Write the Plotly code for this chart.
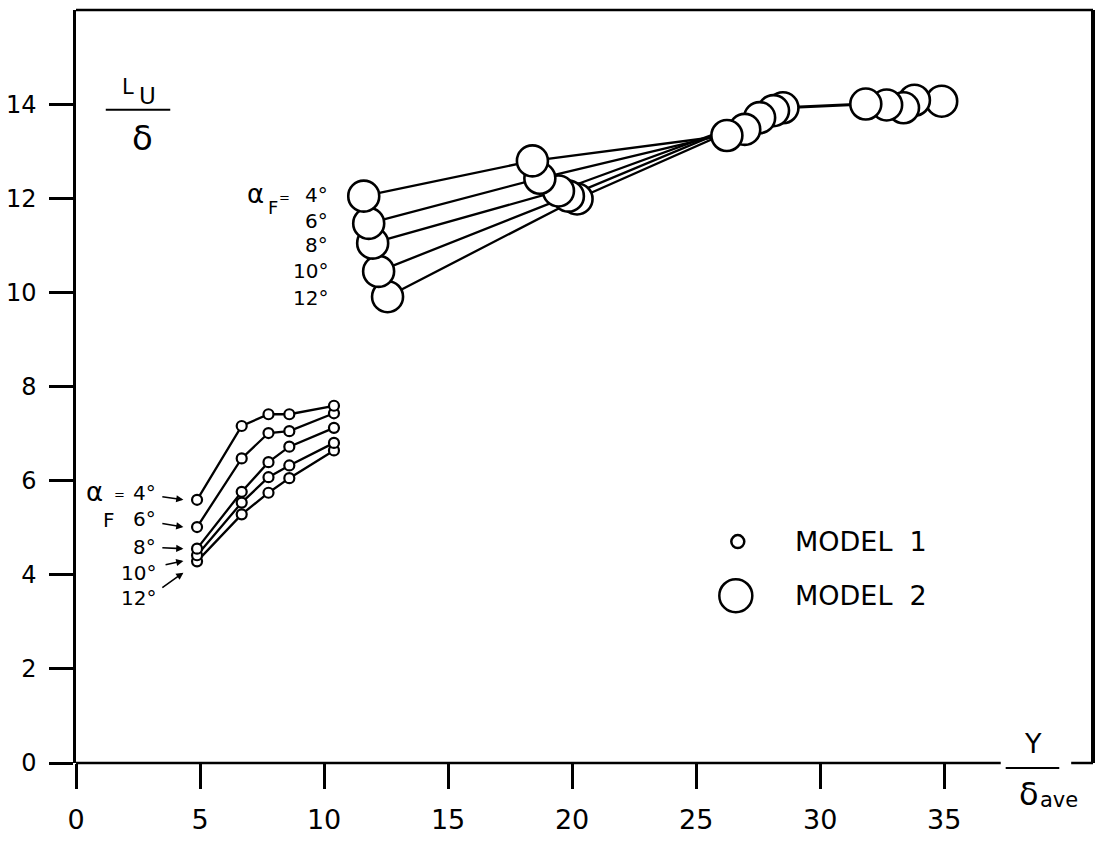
import plotly.graph_objects as go

FONT = "DejaVu Sans"
INK = "black"

# Flap angles (one curve per angle, top curve = 4 deg)
alpha_labels = ["4°", "6°", "8°", "10°", "12°"]

# Model 1: spanwise stations Y/delta_ave and L_U/delta per flap angle
m1_stations = [4.88, 6.68, 7.76, 8.6, 10.4]
m1_lu = [
    [5.60, 7.17, 7.42, 7.42, 7.60],   # 4°
    [5.02, 6.48, 7.02, 7.06, 7.44],   # 6°
    [4.56, 5.77, 6.40, 6.73, 7.13],   # 8°
    [4.42, 5.54, 6.08, 6.33, 6.81],   # 10°
    [4.29, 5.29, 5.75, 6.06, 6.65],   # 12°
]

# Model 2: first three stations per flap angle
m2_y_ave = [
    [11.60, 18.40, 26.24],   # 4°
    [11.80, 18.70, 26.96],   # 6°
    [11.96, 19.45, 27.56],   # 8°
    [12.20, 19.85, 28.12],   # 10°
    [12.56, 20.20, 28.50],   # 12°
]
m2_lu = [
    [12.06, 12.81, 13.35],
    [11.48, 12.44, 13.48],
    [11.06, 12.17, 13.73],
    [10.46, 12.06, 13.88],
    [9.92, 12.00, 13.94],
]
# Model 2: outboard station, one value per flap angle
m2_outer_y_ave = [31.84, 32.68, 33.36, 33.80, 34.90]
m2_outer_lu = [14.02, 14.00, 13.94, 14.10, 14.08]

x_ticks = [0, 5, 10, 15, 20, 25, 30, 35]
y_ticks = [0, 2, 4, 6, 8, 10, 12, 14]

X_MAX = 41.0
Y_MAX = 16.02

fig = go.Figure()

line_style = dict(color=INK, width=2.3)

# connecting lines first so the open circles sit on top of them
for lu in m1_lu:
    fig.add_trace(go.Scatter(x=m1_stations, y=lu, mode="lines",
                             line=line_style, hoverinfo="skip", showlegend=False))
for xs, ys in zip(m2_y_ave, m2_lu):
    fig.add_trace(go.Scatter(x=xs, y=ys, mode="lines",
                             line=line_style, hoverinfo="skip", showlegend=False))

# the outboard run joins the last inboard cluster to the outer cluster
run = sorted(zip([r[-1] for r in m2_y_ave] + m2_outer_y_ave,
                 [r[-1] for r in m2_lu] + m2_outer_lu))
fig.add_trace(go.Scatter(x=[p[0] for p in run], y=[p[1] for p in run], mode="lines",
                         line=dict(color=INK, width=3), hoverinfo="skip", showlegend=False))

# Model 1 markers (12° drawn first so 4° ends up on top)
m1_px, m1_py = [], []
for lu in reversed(m1_lu):
    m1_px += m1_stations
    m1_py += lu
fig.add_trace(go.Scatter(x=m1_px, y=m1_py, mode="markers",
                         marker=dict(symbol="circle", size=10, color="white",
                                     line=dict(color=INK, width=2.2)),
                         name="MODEL 1", showlegend=False))

# Model 2 markers
m2_px, m2_py = [], []
for station in range(3):
    for k in reversed(range(5)):
        m2_px.append(m2_y_ave[k][station])
        m2_py.append(m2_lu[k][station])
for k in reversed(range(5)):
    m2_px.append(m2_outer_y_ave[k])
    m2_py.append(m2_outer_lu[k])
fig.add_trace(go.Scatter(x=m2_px, y=m2_py, mode="markers",
                         marker=dict(symbol="circle", size=31, color="white",
                                     line=dict(color=INK, width=2.6)),
                         name="MODEL 2", showlegend=False))

ann = []


def text(x, y, s, size=22, xanchor="center", yanchor="middle", xref="x", yref="y"):
    ann.append(dict(x=x, y=y, text=s, showarrow=False, xref=xref, yref=yref,
                    xanchor=xanchor, yanchor=yanchor,
                    font=dict(family=FONT, size=size, color=INK)))


# flap-angle labels beside Model 2
m2_label_y = [12.08, 11.54, 11.02, 10.46, 9.90]
text(7.24, m2_label_y[0] + 0.02, "α", size=26)
text(7.96, 11.81, "F", size=18)
text(8.4, m2_label_y[0] - 0.04, "=", size=13)
text(10.25, m2_label_y[0], "4°", size=20, xanchor="right")
for k in range(1, 5):
    text(10.25, m2_label_y[k], alpha_labels[k], size=20, xanchor="right")

# flap-angle labels with arrows beside Model 1
m1_label_y = [5.75, 5.19, 4.60, 4.04, 3.52]
text(0.76, m1_label_y[0] + 0.02, "α", size=26)
text(1.76, m1_label_y[0] - 0.04, "=", size=13)
text(3.3, m1_label_y[0], "4°", size=20, xanchor="right")
text(1.32, 5.17, "F", size=20)
for k in range(1, 5):
    text(3.3, m1_label_y[k], alpha_labels[k], size=20, xanchor="right")

arrow_tails = [(3.42, 5.67), (3.42, 5.10), (3.42, 4.58), (3.55, 4.21), (3.42, 3.71)]
for k, (tx, ty) in enumerate(arrow_tails):
    hx = m1_stations[0] - 0.55
    hy = m1_lu[k][0] - (0.0 if k < 3 else 0.12 * (k - 2))
    ann.append(dict(x=hx, y=hy, ax=tx, ay=ty, axref="x", ayref="y",
                    xref="x", yref="y", text="", showarrow=True,
                    arrowhead=2, arrowsize=0.9, arrowwidth=1.6, arrowcolor=INK))

# y-axis quantity  L_U / delta
text(2.1, 14.38, "L", size=21)
text(2.9, 14.2, "U", size=23)
text(2.7, 13.3, "δ", size=34)

# x-axis quantity  Y / delta_ave (sits in the gap of the base line)
text((1033 - 68) / 1025, (780 - 760) / 769, "Y", size=27, xref="paper", yref="paper")
text((1028 - 68) / 1025, (780 - 812) / 769, "δ", size=32, xref="paper", yref="paper")
text((1038 - 68) / 1025, (780 - 818) / 769, "ave", size=21, xanchor="left",
     xref="paper", yref="paper")

# legend keys
text(28.9, 4.71, "MODEL  1", size=27, xanchor="left")
text(28.9, 3.56, "MODEL  2", size=27, xanchor="left")

shapes = []


def seg(x0, y0, x1, y1, w=2.5, xref="paper", yref="paper"):
    shapes.append(dict(type="line", x0=x0, y0=y0, x1=x1, y1=y1, xref=xref, yref=yref,
                       line=dict(color=INK, width=w)))


# frame: top, right, and broken base line
seg(0, 1, 1, 1)
seg(1, 0, 1, 1, w=4)
seg(0, 0, (1000 - 68) / 1025, 0)
seg((1071 - 68) / 1025, 0, 1, 0)
# fraction bars
seg((1005 - 68) / 1025, (780 - 785) / 769, (1059 - 68) / 1025, (780 - 785) / 769, w=2)
seg(1.2, 13.9, 3.8, 13.9, w=2, xref="x", yref="y")

# legend circles
for cx, cy, d in [(26.68, 4.71, 13), (26.6, 3.56, 33)]:
    shapes.append(dict(type="circle", xref="x", yref="y", xsizemode="pixel", ysizemode="pixel",
                       xanchor=cx, yanchor=cy, x0=-d / 2, x1=d / 2, y0=-d / 2, y1=d / 2,
                       line=dict(color=INK, width=2.5), fillcolor="white"))

fig.update_layout(
    width=1099, height=841,
    margin=dict(l=68, r=6, t=10, b=62),
    paper_bgcolor="white", plot_bgcolor="white",
    showlegend=False,
    annotations=ann, shapes=shapes,
    font=dict(family=FONT, color=INK),
    xaxis=dict(range=[0, X_MAX], tickvals=x_ticks, ticks="outside", ticklen=25,
               tickwidth=2.5, tickcolor=INK, showgrid=False, zeroline=False,
               showline=False, tickfont=dict(family=FONT, size=27, color=INK),
               ticklabelstandoff=8),
    yaxis=dict(range=[0, Y_MAX], tickvals=y_ticks, ticks="outside", ticklen=24,
               tickwidth=2.5, tickcolor=INK, showgrid=False, zeroline=False,
               showline=True, linewidth=2.5, linecolor=INK,
               tickfont=dict(family=FONT, size=24, color=INK),
               ticklabelstandoff=8),
)

fig.write_html("out.html", post_script="document.body.style.margin='0';")
